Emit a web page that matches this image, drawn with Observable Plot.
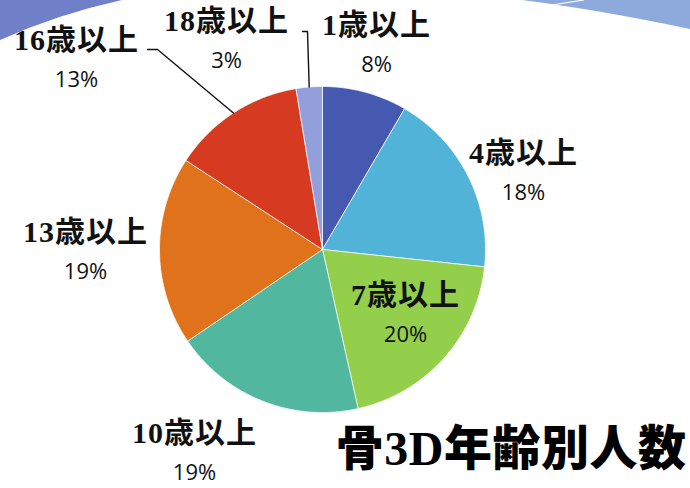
<!DOCTYPE html>
<html>
<head>
<meta charset="utf-8">
<script src="https://cdn.jsdelivr.net/npm/d3@7"></script>
<script src="https://cdn.jsdelivr.net/npm/@observablehq/plot@0.6"></script>
<style>
  html, body { margin: 0; padding: 0; background: #ffffff; }
  #wrap { position: relative; width: 690px; height: 488px; overflow: hidden; background: #ffffff; }
  #deco, #chart svg { position: absolute; left: 0; top: 0; }
  .catlab text { letter-spacing: 1px; }
  .ttl text { letter-spacing: 0.5px; }
</style>
</head>
<body>
<div id="wrap">
  <svg id="deco" width="690" height="488">
    <path d="M0,0 L122,0 Q58,14 0,40 Z" fill="#6f80c8"/>
    <path d="M522,0 L690,0 L690,29 Q600,10 522,0 Z" fill="#8eaadd"/>
    <path d="M552,5 L584,0" stroke="#ffffff" stroke-width="1.2" fill="none"/>
  </svg>
  <div id="chart"></div>
</div>
<script>
// ---- data ----
const categories = ["1歳以上", "4歳以上", "7歳以上", "10歳以上", "13歳以上", "16歳以上", "18歳以上"];
const shares = [8.4, 18.3, 19.8, 19.0, 18.7, 13.2, 2.6];
const pctLabels = ["8%", "18%", "20%", "19%", "19%", "13%", "3%"];
const colors = ["#4659b0", "#52b3d9", "#94cf4c", "#51b79e", "#e0721c", "#d63a21", "#929fdb"];
const title = "骨3D年齢別人数";

// ---- layout (pixels, relative to pie centre) ----
const W = 690, H = 488, R = 163, cx = 322, cy = 249;
const labelOffsets = [[54, -224], [201, -96], [83, 46], [-128, 184], [-237, -17], [-246, -209], [-96, -228]];
const pctGap = 39;
const leaderBends = { "16歳以上": [[-165, -200], [-175, -200]], "18歳以上": [[-15, -218], [-20, -218]] };

const total = d3.sum(shares);
const toU = px => px / R, toV = py => -py / R;

// slices as polygons in radius units
let cum = 0;
const slices = categories.map((c, i) => {
  const a0 = cum / total * 2 * Math.PI;
  cum += shares[i];
  const a1 = cum / total * 2 * Math.PI;
  const n = Math.max(2, Math.ceil((a1 - a0) / (Math.PI / 360)));
  const pts = [{u: 0, v: 0}];
  for (let k = 0; k <= n; k++) {
    const a = a0 + (a1 - a0) * k / n;
    pts.push({u: Math.sin(a), v: Math.cos(a)});
  }
  pts.push({u: 0, v: 0});
  return {cat: c, pts, mid: (a0 + a1) / 2};
});

const labels = categories.map((c, i) => ({
  cat: c, pct: pctLabels[i],
  u: toU(labelOffsets[i][0]), v: toV(labelOffsets[i][1]), v2: toV(labelOffsets[i][1] + pctGap)
}));

const leaders = [];
slices.forEach(s => {
  if (leaderBends[s.cat]) {
    const pts = [{u: Math.sin(s.mid), v: Math.cos(s.mid)}, ...leaderBends[s.cat].map(([dx, dy]) => ({u: toU(dx), v: toV(dy)}))];
    pts.forEach(p => leaders.push({...p, cat: s.cat}));
  }
});

const serif = "'Liberation Serif', 'Noto Sans CJK JP', serif";
const chart = Plot.plot({
  width: W, height: H,
  marginTop: 0, marginRight: 0, marginBottom: 0, marginLeft: 0,
  style: {background: "transparent", overflow: "visible"},
  x: {domain: [-cx / R, (W - cx) / R], axis: null},
  y: {domain: [-(H - cy) / R, cy / R], axis: null},
  marks: [
    ...slices.map((s, i) => Plot.line(s.pts, {x: "u", y: "v", fill: colors[i], stroke: "#ffffff", strokeWidth: 0.7, strokeLinejoin: "round"})),
    Plot.line(leaders, {x: "u", y: "v", z: "cat", stroke: "#111111", strokeWidth: 1.4}),
    Plot.text(labels, {x: "u", y: "v", text: "cat", fontFamily: serif, fontWeight: "bold", fontSize: 30, fill: "#111111", lineAnchor: "middle", textAnchor: "middle", className: "catlab"}),
    Plot.text(labels, {x: "u", y: "v2", text: "pct", fontFamily: "'Open Sans', sans-serif", fontSize: 22, fill: "#111111", lineAnchor: "middle", textAnchor: "middle"}),
    Plot.text([title], {text: d => d, frameAnchor: "bottom-right", dx: -4, dy: -24, fontFamily: serif, fontWeight: 900, fontSize: 48, fill: "#000000", textAnchor: "end", lineAnchor: "bottom", className: "ttl"})
  ]
});
document.getElementById("chart").appendChild(chart);
</script>
</body>
</html>
